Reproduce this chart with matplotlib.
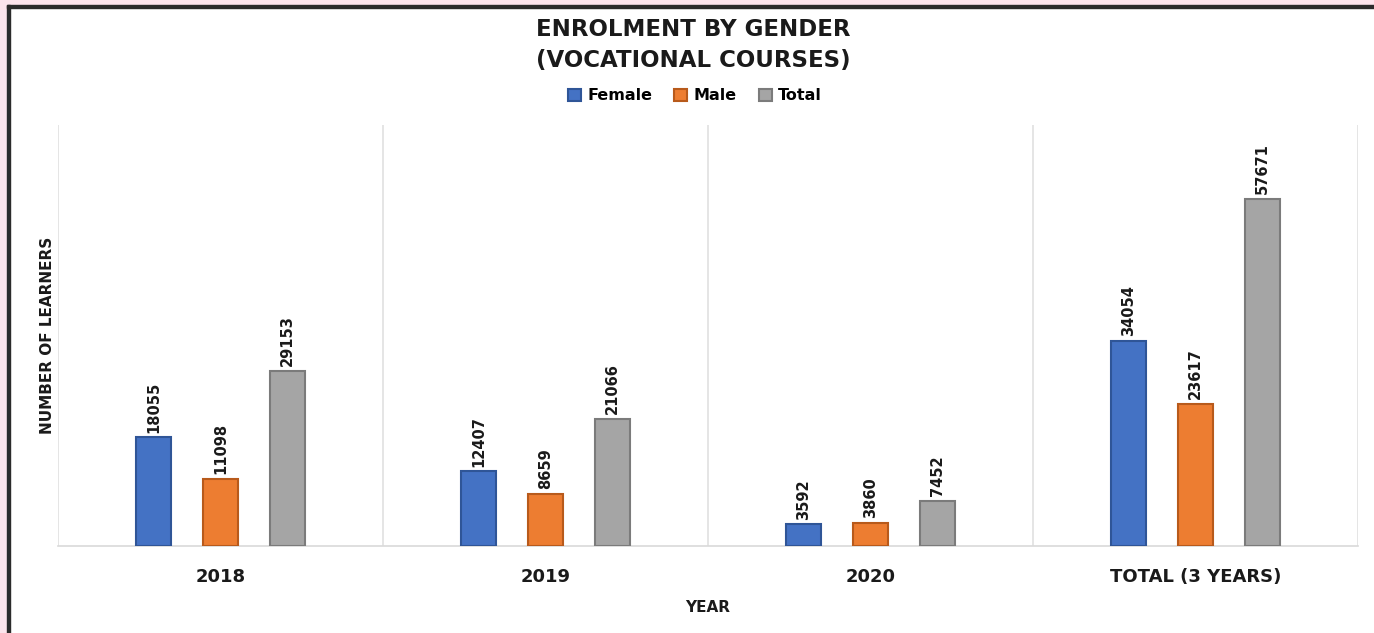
import matplotlib.pyplot as plt
import numpy as np
from matplotlib.patches import Rectangle

W, H = 1374, 633

categories = ["2018", "2019", "2020", "TOTAL (3 YEARS)"]
female = [18055, 12407, 3592, 34054]
male = [11098, 8659, 3860, 23617]
total = [29153, 21066, 7452, 57671]

series_names = ["Female", "Male", "Total"]
COLORS = ["#4472C4", "#ED7D31", "#A5A5A5"]
EDGES = ["#2F5597", "#B85A1B", "#7B7B7B"]

BAR_W = 0.108
OFFSET = 0.206


def px(x, y):
    # pixel coords (from top-left) to figure fraction
    return x / W, 1 - y / H


fig = plt.figure(figsize=(W / 100, H / 100), dpi=100)
ax = fig.add_axes([58 / W, (633 - 546) / H, 1300 / W, 421 / H])

x = np.arange(len(categories))
for i, (vals, name) in enumerate(zip([female, male, total], series_names)):
    pos = x + (i - 1) * OFFSET
    bars = ax.bar(pos, vals, width=BAR_W, color=COLORS[i],
                  edgecolor=EDGES[i], linewidth=1.5, label=name, zorder=3)
    for b, v in zip(bars, vals):
        ax.text(b.get_x() + b.get_width() / 2, v + 800, str(v),
                rotation=90, ha="center", va="bottom", fontsize=10.5,
                fontweight="bold", color="#1a1a1a")

ax.set_xlim(-0.5, len(categories) - 0.5)
ax.set_ylim(0, 70000)
ax.set_yticks([])
ax.set_xticks(x)
ax.set_xticklabels(categories, fontsize=13, fontweight="bold",
                   color="#1a1a1a")
ax.tick_params(axis="x", length=0, pad=16)

# vertical separators between categories
for b in np.arange(-0.5, len(categories), 1.0):
    ax.axvline(b, color="#e0e0e0", linewidth=1.2, zorder=1)

for s in ["top", "left", "right"]:
    ax.spines[s].set_visible(False)
ax.spines["bottom"].set_color("#d9d9d9")
ax.spines["bottom"].set_linewidth(1.2)

ax.set_xlabel("YEAR", fontsize=11, fontweight="bold", labelpad=10,
              color="#1a1a1a")
ax.set_ylabel("NUMBER OF LEARNERS", fontsize=11, fontweight="bold",
              labelpad=2, color="#1a1a1a")

fig.text(*px(693, 30), "ENROLMENT BY GENDER", ha="center", va="center",
         fontsize=16.5, fontweight="bold", color="#1a1a1a")
fig.text(*px(693, 60), "(VOCATIONAL COURSES)", ha="center", va="center",
         fontsize=16.5, fontweight="bold", color="#1a1a1a")

ax.legend(loc="center", bbox_to_anchor=(0.49, (633 - 96 - 87) / 421),
          ncol=3, frameon=False, handlelength=0.8,
          handleheight=0.8, columnspacing=1.4, handletextpad=0.4,
          prop={"weight": "bold", "size": 11.5})

# pink frame strips and dark border at top-left
fig.patches.append(Rectangle(px(0, 633), 7 / W, 1, transform=fig.transFigure,
                             color="#FCE4EC", zorder=0))
fig.patches.append(Rectangle(px(0, 5), 1, 5 / H, transform=fig.transFigure,
                             color="#FCE4EC", zorder=0))
fig.patches.append(Rectangle(px(7, 633), 2.5 / W, 628 / H,
                             transform=fig.transFigure, color="#2b2b2b"))
fig.patches.append(Rectangle(px(7, 7.5), 1, 2.5 / H,
                             transform=fig.transFigure, color="#2b2b2b"))

fig.savefig("out.png", dpi=100)
